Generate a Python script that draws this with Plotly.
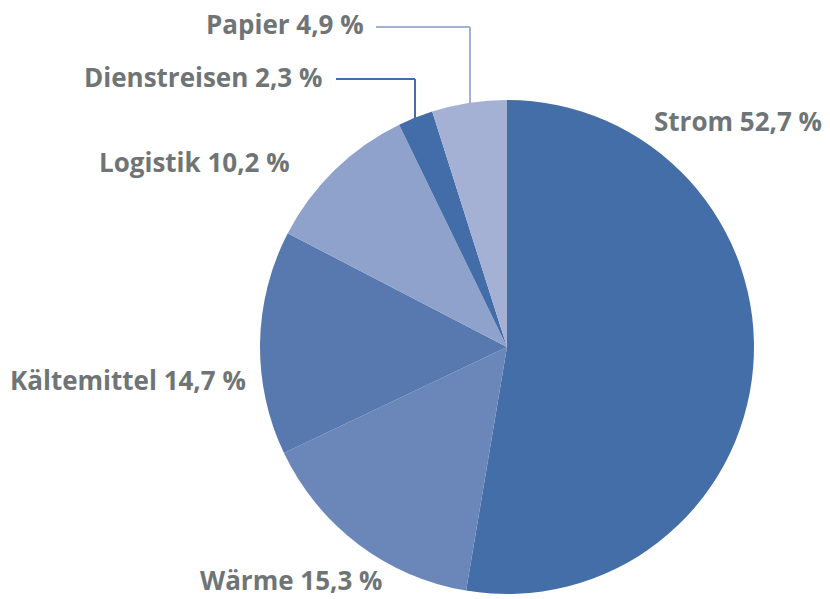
import plotly.graph_objects as go

categories = ["Strom", "Wärme", "Kältemittel", "Logistik", "Dienstreisen", "Papier"]
values = [52.7, 15.3, 14.7, 10.2, 2.3, 4.9]
colors = ["#446ea8", "#6b87b9", "#5878b0", "#8fa2cb", "#436da8", "#a4b0d4"]

W, H = 830, 599
cx, cy, r = 507, 347, 247

fig = go.Figure(go.Pie(
    labels=categories, values=values, sort=False, direction="clockwise",
    rotation=0, marker=dict(colors=colors, line=dict(width=0)),
    textinfo="none", hoverinfo="label+percent", showlegend=False,
    domain=dict(x=[(cx - r) / W, (cx + r) / W], y=[(H - cy - r) / H, (H - cy + r) / H]),
))

def fmt(v):
    return f"{v:.1f}".replace(".", ",") + " %"

# label anchor positions (pixels from top-left), anchor side
label_pos = {
    "Strom": (652, 121, "left"),
    "Wärme": (384, 580, "right"),
    "Kältemittel": (248, 380, "right"),
    "Logistik": (292, 162, "right"),
    "Dienstreisen": (324, 77, "right"),
    "Papier": (366, 24, "right"),
}
annotations = []
for c, v in zip(categories, values):
    x, y, side = label_pos[c]
    annotations.append(dict(
        x=x / W, y=1 - y / H, xref="paper", yref="paper", xanchor=side, yanchor="middle",
        text=f"<b>{c} {fmt(v)}</b>", showarrow=False,
        font=dict(family="Open Sans, sans-serif", size=26, color="#6f7476"),
    ))

shapes = []
def seg(x0, y0, x1, y1, color):
    shapes.append(dict(type="line", xref="paper", yref="paper",
                       x0=x0 / W, y0=1 - y0 / H, x1=x1 / W, y1=1 - y1 / H,
                       line=dict(color=color, width=2)))

seg(376, 27, 470, 27, colors[5]); seg(470, 27, 470, 103, colors[5])
seg(336, 79, 415, 79, colors[4]); seg(415, 79, 415, 118, colors[4])

fig.update_layout(width=W, height=H, margin=dict(l=0, r=0, t=0, b=0),
                  paper_bgcolor="white", plot_bgcolor="white",
                  annotations=annotations, shapes=shapes)
fig.write_html("out.html")
